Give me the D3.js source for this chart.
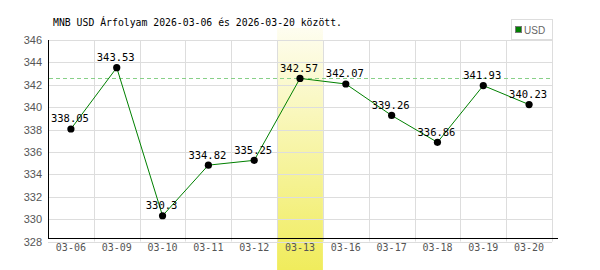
<!DOCTYPE html>
<html>
<head>
<meta charset="utf-8">
<script src="https://cdn.jsdelivr.net/npm/d3@7"></script>
<style>
  body { margin: 0; background: #fff; }
</style>
</head>
<body>
<script>
// chart data
var dates = ["03-06", "03-09", "03-10", "03-11", "03-12", "03-13", "03-16", "03-17", "03-18", "03-19", "03-20"];
var rates = [338.05, 343.53, 330.3, 334.82, 335.25, 342.57, 342.07, 339.26, 336.86, 341.93, 340.23];
var yTicks = [328, 330, 332, 334, 336, 338, 340, 342, 344, 346];
var highlightDate = "03-13";
var titleText = "MNB USD Árfolyam 2026-03-06 és 2026-03-20 között.";
var seriesName = "USD";

var W = 600, H = 270;
// plot area (note: "top" is reserved on window, so use plot* names)
var plotL = 48, plotR = 552, plotT = 40, plotB = 241.5;
var axisY = 238.5;

var svg = d3.select("body").append("svg")
  .attr("width", W)
  .attr("height", H);

// gradient for the highlighted day
var grad = svg.append("defs").append("linearGradient")
  .attr("id", "hl").attr("x1", 0).attr("y1", 0).attr("x2", 0).attr("y2", 1);
grad.append("stop").attr("offset", "0%").attr("stop-color", "#fefdf0");
grad.append("stop").attr("offset", "100%").attr("stop-color", "#f0ec5c");

var x = d3.scaleBand().domain(dates).range([plotL, plotR]);
var y = d3.scaleLinear().domain([328, 346]).range([plotB, plotT]);

// highlight band
svg.append("rect")
  .attr("x", x(highlightDate))
  .attr("y", 28)
  .attr("width", x.bandwidth())
  .attr("height", H - 28)
  .attr("fill", "url(#hl)");

// grid
svg.append("g").selectAll("line").data(yTicks).join("line")
  .attr("x1", plotL).attr("x2", plotR)
  .attr("y1", d => Math.round(y(d)) + 0.5).attr("y2", d => Math.round(y(d)) + 0.5)
  .attr("stroke", "#dddddd");
svg.append("g").selectAll("line").data(dates.slice(1).concat(["end"])).join("line")
  .attr("x1", d => Math.round(d === "end" ? plotR : x(d)) + 0.5)
  .attr("x2", d => Math.round(d === "end" ? plotR : x(d)) + 0.5)
  .attr("y1", plotT).attr("y2", plotB)
  .attr("stroke", "#dddddd");

// axes lines
svg.append("line")
  .attr("x1", plotL + 0.5).attr("x2", plotL + 0.5)
  .attr("y1", plotT).attr("y2", axisY)
  .attr("stroke", "#000");
svg.append("line")
  .attr("x1", plotL).attr("x2", plotR + 6)
  .attr("y1", axisY).attr("y2", axisY)
  .attr("stroke", "#000");

// reference line at highlighted value
var hlVal = rates[dates.indexOf(highlightDate)];
svg.append("line")
  .attr("x1", plotL + 1).attr("x2", plotR)
  .attr("y1", Math.round(y(hlVal)) + 0.5).attr("y2", Math.round(y(hlVal)) + 0.5)
  .attr("stroke", "#88d088")
  .attr("stroke-dasharray", "4,3");

// tick labels
svg.append("g").selectAll("text").data(yTicks).join("text")
  .attr("x", plotL - 6)
  .attr("y", d => y(d) + 4)
  .attr("text-anchor", "end")
  .attr("font-family", "Liberation Sans, Arial, sans-serif")
  .attr("font-size", 11)
  .attr("fill", "#555")
  .text(d => d);
svg.append("g").selectAll("text").data(dates).join("text")
  .attr("x", d => x(d) + x.bandwidth() / 2)
  .attr("y", 251)
  .attr("text-anchor", "middle")
  .attr("font-family", "DejaVu Sans Mono, monospace")
  .attr("font-size", 10)
  .attr("fill", "#555")
  .text(d => d);

// series line
var pts = dates.map((d, i) => [x(d) + x.bandwidth() / 2, y(rates[i])]);
svg.append("path")
  .attr("d", d3.line()(pts))
  .attr("fill", "none")
  .attr("stroke", "#008000")
  .attr("stroke-width", 1);

svg.append("g").selectAll("circle").data(pts).join("circle")
  .attr("cx", d => d[0]).attr("cy", d => d[1])
  .attr("r", 3.6).attr("fill", "#000");

svg.append("g").selectAll("text").data(rates).join("text")
  .attr("x", (d, i) => pts[i][0] - 1)
  .attr("y", (d, i) => pts[i][1] - 6.5)
  .attr("text-anchor", "middle")
  .attr("font-family", "DejaVu Sans Mono, monospace")
  .attr("font-size", 10.5)
  .attr("fill", "#000")
  .text(d => d);

// title
svg.append("text")
  .attr("x", 53).attr("y", 26)
  .attr("font-family", "DejaVu Sans Mono, monospace")
  .attr("font-size", 9.8)
  .attr("fill", "#000")
  .text(titleText);

// legend
var lg = svg.append("g");
lg.append("rect")
  .attr("x", 511.5).attr("y", 19.5).attr("width", 41).attr("height", 20)
  .attr("fill", "#fff").attr("stroke", "#dddddd");
lg.append("rect")
  .attr("x", 515.5).attr("y", 26.5).attr("width", 6).attr("height", 6)
  .attr("fill", "#008000").attr("stroke", "#777");
lg.append("text")
  .attr("x", 524).attr("y", 33.5)
  .attr("font-family", "Liberation Sans, Arial, sans-serif")
  .attr("font-size", 10)
  .attr("fill", "#666")
  .text(seriesName);
</script>
</body>
</html>
